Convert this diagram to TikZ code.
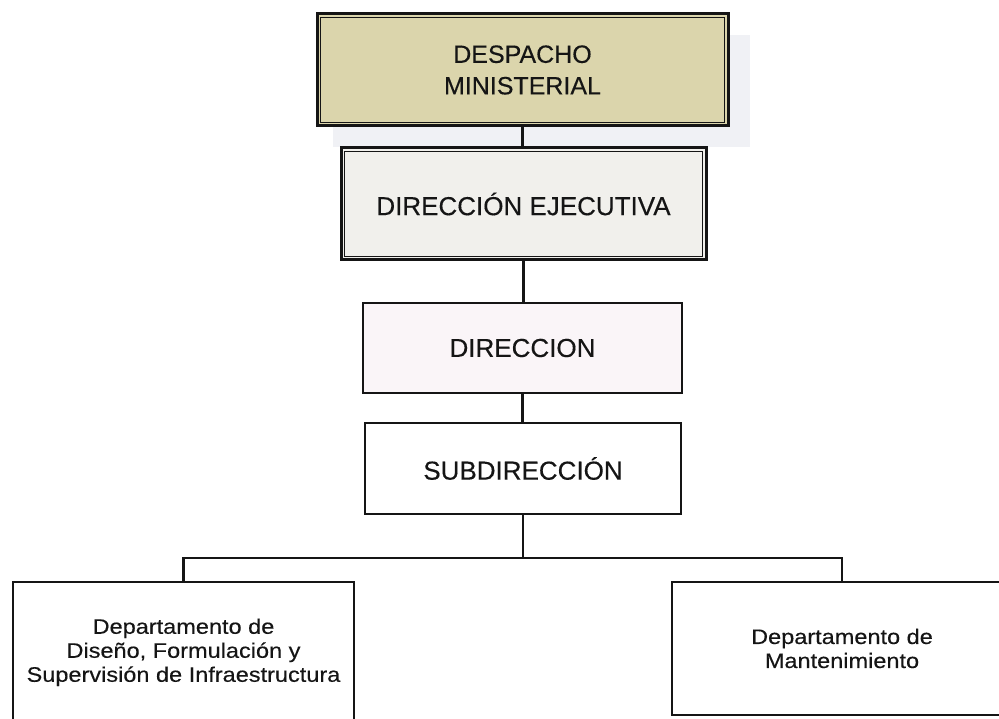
\documentclass[tikz,border=0pt]{standalone}
\usepackage{fontspec}
\setmainfont{Liberation Sans}
\newfontfamily\mainw{Liberation Sans}[UprightFeatures={FakeBold=0.3}]
\newfontfamily\widefont{Liberation Sans}[UprightFeatures={FakeStretch=1.12,FakeBold=0.3}]
\definecolor{tanfill}{HTML}{DBD5AC}
\definecolor{grayfill}{HTML}{F1F0EC}
\definecolor{pinkfill}{HTML}{FAF5F8}
\definecolor{shadowc}{HTML}{F0F1F5}
\definecolor{ink}{HTML}{151515}
\tikzset{
  box/.style={draw=ink, line width=2.4pt, inner sep=0pt, align=center, text=ink},
  dbox/.style={box, line width=3pt},
  bigtext/.style={font=\mainw\fontsize{26}{30}\selectfont},
  toptext/.style={font=\mainw\fontsize{25}{31.5}\selectfont},
  smalltext/.style={font=\widefont\fontsize{21}{24}\selectfont},
  conn/.style={draw=ink, line width=2.2pt},
  innerline/.style={draw=ink, line width=1.6pt}
}
\begin{document}
\begin{tikzpicture}[x=1pt,y=1pt]
\useasboundingbox[fill=white] (0,0) rectangle (999,719);
% faint shadow behind top box
\fill[shadowc] (333,572) rectangle (750,684);
% nodes
\node[dbox, toptext, fill=tanfill, minimum width=411pt, minimum height=112pt] (top) at (522.5,649) {DESPACHO\\MINISTERIAL};
\draw[innerline] ([shift={(5,-5)}]top.north west) rectangle ([shift={(-5,5)}]top.south east);
\node[dbox, bigtext, fill=grayfill, minimum width=365pt, minimum height=112pt] (de) at (523.5,515) {DIRECCIÓN EJECUTIVA};
\draw[innerline] ([shift={(5,-5)}]de.north west) rectangle ([shift={(-5,5)}]de.south east);
\node[box, bigtext, fill=pinkfill, minimum width=319pt, minimum height=90pt] (dir) at (522.5,371) {DIRECCION};
\node[box, bigtext, fill=white, minimum width=316pt, minimum height=91pt] (sub) at (523,250.5) {SUBDIRECCIÓN};
\node[box, smalltext, fill=white, minimum width=341pt, minimum height=142pt] (left) at (183.5,66)
  {\raisebox{5pt}{\begin{tabular}{@{}c@{}}Departamento de\\Diseño, Formulación y\\Supervisión de Infraestructura\end{tabular}}};
\node[box, smalltext, fill=white, minimum width=340pt, minimum height=133pt] (right) at (842,70.5)
  {Departamento de\\Mantenimiento};
% connectors
\coordinate (bus) at (523,161);
\draw[conn] (top.south) -- (top.south |- de.north);
\draw[conn] (de.south) -- (de.south |- dir.north);
\draw[conn] (dir.south) -- (dir.south |- sub.north);
\draw[conn] (sub.south) -- (sub.south |- bus);
\draw[conn] (left.north) -- (left.north |- bus) -- (right.north |- bus) -- (right.north);
\end{tikzpicture}
\end{document}
